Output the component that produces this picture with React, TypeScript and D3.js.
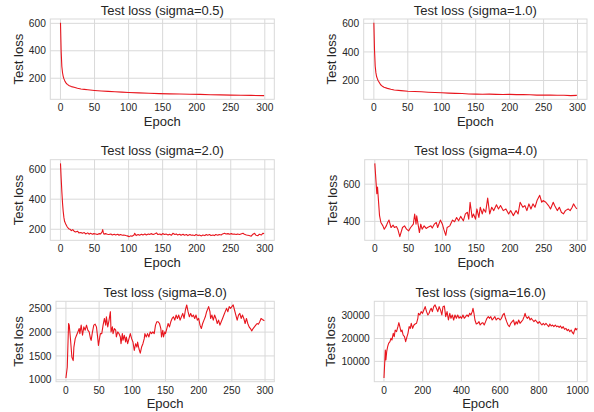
import React from "react";
import * as d3 from "d3";

type Pt = [number, number];

// [epoch, test loss]
const sigma05Loss: Pt[] = [
  [0, 605], [1, 395], [2, 285], [3, 240], [4, 214], [5, 197], [6, 184], [8, 166], [10, 155],
  [13, 145], [16, 139], [20, 134], [25, 127], [30, 122], [35, 119], [40, 116], [50, 111],
  [60, 107], [70, 104], [80, 101], [90, 99], [100, 96], [115, 93], [130, 90], [145, 88],
  [160, 86], [175, 85], [190, 83], [205, 82], [220, 80], [235, 79], [250, 77], [265, 76],
  [280, 75], [299, 73],
];

const sigma10Loss: Pt[] = [
  [0, 605], [1, 410], [2, 300], [3, 255], [4, 228], [5, 215], [6, 202], [8, 186], [10, 170],
  [12, 162], [15, 153], [20, 145], [25, 139], [30, 134], [40, 129], [50, 125], [60, 123],
  [70, 121], [80, 118], [90, 116], [100, 114], [110, 112], [120, 110], [130, 109], [140, 106],
  [150, 105], [160, 104], [170, 105], [180, 103], [190, 102], [200, 103], [210, 101],
  [220, 102], [230, 100], [240, 98], [250, 98], [260, 99], [270, 97], [280, 97], [290, 94],
  [299, 96],
];

const sigma20Loss: Pt[] = [
  [0, 638], [1, 539], [2, 451], [3, 374], [4, 319], [5, 279], [6, 253], [8, 231], [10, 215],
  [12, 204], [14, 200], [16, 191], [18, 198], [20, 187], [22, 182], [25, 187], [27, 176],
  [30, 178], [32, 173], [35, 178], [37, 169], [40, 176], [42, 167], [44, 173], [47, 167],
  [49, 171], [52, 169], [54, 165], [57, 171], [59, 169], [61, 182], [62, 198], [63, 176],
  [64, 167], [66, 171], [69, 167], [71, 165], [74, 169], [76, 162], [79, 167], [81, 162],
  [84, 167], [86, 160], [88, 165], [91, 160], [93, 162], [96, 158], [98, 156], [101, 151],
  [103, 156], [105, 154], [108, 162], [109, 173], [111, 158], [114, 165], [116, 160],
  [119, 167], [121, 162], [124, 169], [126, 162], [129, 169], [131, 165], [133, 171],
  [136, 165], [138, 169], [141, 176], [143, 165], [146, 169], [148, 162], [150, 171],
  [153, 165], [155, 169], [158, 162], [160, 167], [163, 160], [165, 173], [168, 165],
  [170, 169], [172, 162], [175, 167], [177, 160], [180, 167], [182, 160], [185, 165],
  [187, 158], [190, 165], [192, 160], [194, 162], [197, 158], [199, 165], [202, 158],
  [204, 162], [207, 156], [209, 162], [212, 158], [214, 165], [216, 160], [219, 165],
  [221, 158], [224, 162], [226, 158], [228, 165], [231, 160], [233, 165], [236, 162],
  [238, 169], [241, 173], [243, 169], [246, 171], [248, 167], [251, 171], [253, 167],
  [255, 169], [258, 165], [260, 169], [263, 165], [265, 169], [268, 173], [270, 167],
  [273, 162], [275, 160], [277, 158], [280, 154], [282, 165], [285, 173], [287, 160],
  [290, 158], [292, 167], [295, 162], [297, 173], [299, 171],
];

const sigma40Loss: Pt[] = [
  [0, 712], [3, 549], [4, 585], [7, 431], [9, 394], [12, 376], [14, 358], [17, 376], [19, 394],
  [21, 407], [24, 367], [27, 380], [29, 367], [32, 372], [34, 358], [37, 318], [41, 367],
  [44, 376], [47, 358], [50, 349], [53, 367], [57, 385], [59, 440], [61, 385], [62, 430],
  [66, 340], [68, 385], [70, 358], [73, 376], [76, 362], [78, 367], [83, 376], [85, 364],
  [88, 385], [91, 394], [93, 367], [97, 407], [100, 385], [102, 358], [105, 325], [107, 367],
  [111, 376], [115, 407], [118, 398], [121, 421], [124, 403], [127, 427], [131, 403],
  [134, 440], [137, 449], [139, 412], [141, 503], [144, 421], [146, 440], [149, 412],
  [151, 467], [154, 421], [156, 476], [159, 440], [161, 467], [164, 449], [167, 525],
  [170, 440], [173, 476], [176, 458], [180, 489], [183, 467], [186, 485], [190, 458],
  [194, 467], [198, 440], [201, 458], [205, 431], [209, 458], [212, 440], [215, 503],
  [219, 476], [222, 485], [225, 458], [228, 494], [231, 467], [234, 494], [237, 476],
  [240, 512], [244, 540], [247, 503], [249, 512], [253, 503], [257, 485], [260, 467],
  [264, 503], [266, 485], [270, 458], [273, 476], [276, 449], [279, 440], [282, 458],
  [286, 467], [289, 458], [292, 476], [294, 494], [297, 476], [299, 467],
];

const sigma80Loss: Pt[] = [
  [0, 1036], [2, 1262], [4, 2181], [5, 2146], [7, 1828], [9, 1474], [11, 1403], [12, 1686],
  [14, 1863], [16, 1934], [18, 2004], [20, 2075], [21, 1969], [23, 2146], [25, 1934],
  [27, 2110], [29, 2040], [31, 2146], [33, 2040], [35, 2004], [37, 1863], [38, 1828],
  [40, 2004], [42, 2146], [44, 2167], [46, 2110], [48, 1863], [49, 1722], [51, 1898],
  [52, 1969], [54, 1969], [56, 2146], [58, 2287], [60, 2146], [61, 2322], [63, 2110],
  [65, 2252], [67, 2429], [68, 2004], [70, 2110], [71, 1969], [73, 2075], [75, 2040],
  [76, 1898], [78, 2004], [80, 1969], [82, 1898], [83, 1757], [85, 1969], [86, 1828],
  [88, 1934], [90, 1792], [91, 1898], [93, 1757], [95, 1863], [97, 1969], [99, 1863],
  [101, 1792], [103, 1615], [105, 1757], [107, 1686], [108, 1792], [110, 1651], [112, 1559],
  [114, 1686], [116, 1757], [118, 1863], [119, 1969], [121, 1898], [123, 1969], [125, 1898],
  [127, 2004], [129, 1969], [131, 2004], [133, 1969], [135, 2146], [137, 2216], [139, 2216],
  [141, 2181], [143, 2075], [144, 1898], [146, 2040], [147, 1898], [149, 2004], [150, 1969],
  [152, 2075], [154, 2181], [156, 2110], [158, 2216], [160, 2287], [162, 2322], [164, 2252],
  [166, 2358], [168, 2287], [170, 2358], [172, 2252], [174, 2322], [176, 2393], [178, 2287],
  [180, 2464], [182, 2570], [184, 2429], [186, 2322], [188, 2393], [190, 2322], [192, 2358],
  [194, 2287], [196, 2358], [198, 2252], [200, 2287], [202, 2146], [204, 2075], [206, 2181],
  [208, 2252], [210, 2322], [212, 2429], [214, 2499], [215, 2535], [217, 2429], [218, 2287],
  [220, 2358], [222, 2252], [224, 2358], [226, 2287], [228, 2181], [230, 2252], [232, 2146],
  [234, 2216], [236, 2287], [238, 2358], [240, 2429], [242, 2499], [244, 2429], [246, 2535],
  [248, 2499], [250, 2535], [252, 2570], [254, 2464], [256, 2358], [258, 2252], [260, 2358],
  [262, 2393], [264, 2287], [266, 2358], [268, 2287], [270, 2181], [272, 2287], [274, 2181],
  [276, 2110], [278, 2075], [280, 2026], [282, 2075], [284, 2110], [286, 2146], [288, 2181],
  [290, 2167], [292, 2216], [294, 2287], [296, 2266], [299, 2238],
];

const sigma160Loss: Pt[] = [
  [0, 2700], [7, 14960], [10, 10570], [14, 14230], [19, 16420], [24, 17880], [31, 18610],
  [36, 20070], [41, 19340], [48, 22270], [53, 20800], [58, 23730], [65, 23000], [72, 25190],
  [77, 26940], [82, 25190], [88, 23000], [93, 23730], [99, 21540], [106, 20800], [112, 18610],
  [119, 20800], [124, 22270], [130, 25190], [136, 24460], [141, 26650], [148, 24460],
  [155, 25920], [161, 26360], [168, 26650], [175, 28850], [178, 31040], [185, 30310],
  [192, 31770], [199, 31040], [206, 32500], [213, 33960], [220, 31770], [227, 30310],
  [233, 31040], [239, 32500], [244, 33230], [250, 31770], [257, 33960], [264, 34690],
  [271, 33230], [278, 31770], [285, 33960], [292, 32500], [299, 30310], [305, 33960],
  [312, 34250], [319, 29580], [326, 31770], [333, 28110], [340, 31040], [346, 28850],
  [353, 30310], [360, 28110], [367, 30310], [374, 28850], [381, 30310], [388, 28850],
  [394, 29580], [401, 28850], [408, 30310], [415, 28850], [422, 29580], [429, 30310],
  [436, 29580], [443, 31040], [449, 30310], [456, 31770], [460, 33230], [465, 31040],
  [470, 28110], [477, 26360], [484, 26650], [491, 27380], [497, 25920], [504, 26650],
  [511, 26940], [518, 25920], [525, 27380], [532, 28850], [539, 29580], [545, 28850],
  [552, 29580], [559, 28110], [566, 28850], [573, 29580], [580, 28110], [587, 28850],
  [593, 28850], [600, 28110], [607, 28850], [614, 30310], [621, 31040], [628, 28850],
  [634, 27380], [641, 25920], [648, 25190], [655, 26650], [662, 27380], [669, 28110],
  [676, 25920], [683, 27380], [689, 26360], [696, 28110], [703, 26650], [710, 27380],
  [717, 28110], [724, 29580], [729, 31040], [734, 29580], [741, 28850], [748, 29580],
  [755, 28110], [761, 28850], [768, 28110], [775, 27380], [782, 28110], [789, 27380],
  [796, 26650], [803, 27380], [809, 26650], [816, 25920], [823, 26650], [830, 25920],
  [837, 26650], [844, 25920], [851, 25190], [857, 26360], [864, 25480], [871, 25920],
  [878, 25190], [885, 25920], [892, 25190], [899, 25480], [905, 24900], [912, 25480],
  [919, 24460], [926, 25190], [933, 24020], [940, 24460], [947, 23440], [953, 24020],
  [960, 23000], [967, 23730], [974, 22560], [979, 21970], [984, 23440], [989, 24460],
  [993, 23730], [999, 24460],
];

const epochTicks300 = [0, 50, 100, 150, 200, 250, 300];
const epochTicks1000 = [0, 200, 400, 600, 800, 1000];
const lossTicksLow = [200, 400, 600];
const lossTicksSigma4 = [400, 600];
const lossTicksSigma8 = [1000, 1500, 2000, 2500];
const lossTicksSigma16 = [10000, 20000, 30000];

const W = 594;
const H = 412;
const FONT = "'Liberation Sans', Arial, 'DejaVu Sans', sans-serif";
const TEXT = "#262626";
const GRID = "#d9d9d9";
const LINE = "#e8161e";

type Box = { left: number; right: number; top: number; bottom: number };
type PanelSpec = { sigma: string; data: Pt[]; xTicks: number[]; yTicks: number[]; box: Box };

const panels: PanelSpec[] = [
  { sigma: "0.5", data: sigma05Loss, xTicks: epochTicks300, yTicks: lossTicksLow, box: { left: 50.3, right: 274.3, top: 19, bottom: 99.3 } },
  { sigma: "1.0", data: sigma10Loss, xTicks: epochTicks300, yTicks: lossTicksLow, box: { left: 363.7, right: 587, top: 19, bottom: 99.3 } },
  { sigma: "2.0", data: sigma20Loss, xTicks: epochTicks300, yTicks: lossTicksLow, box: { left: 50.3, right: 274.3, top: 159.7, bottom: 240.3 } },
  { sigma: "4.0", data: sigma40Loss, xTicks: epochTicks300, yTicks: lossTicksSigma4, box: { left: 364.7, right: 587, top: 159.7, bottom: 240.3 } },
  { sigma: "8.0", data: sigma80Loss, xTicks: epochTicks300, yTicks: lossTicksSigma8, box: { left: 56, right: 274.3, top: 301.3, bottom: 381.7 } },
  { sigma: "16.0", data: sigma160Loss, xTicks: epochTicks1000, yTicks: lossTicksSigma16, box: { left: 374.3, right: 587, top: 301.3, bottom: 381.7 } },
];

// matplotlib-style 5% data margins
const padded = (ext: [number, number]): [number, number] => {
  const span = ext[1] - ext[0];
  return [ext[0] - 0.05 * span, ext[1] + 0.05 * span];
};

const Panel = ({ spec }: { spec: PanelSpec }) => {
  const { box, data } = spec;
  const x = d3
    .scaleLinear()
    .domain(padded(d3.extent(data, (d) => d[0]) as [number, number]))
    .range([box.left, box.right]);
  const y = d3
    .scaleLinear()
    .domain(padded(d3.extent(data, (d) => d[1]) as [number, number]))
    .range([box.bottom, box.top]);
  const path = d3
    .line<Pt>()
    .x((d) => x(d[0]))
    .y((d) => y(d[1]))(data);

  const tickW = (d3.max(spec.yTicks, (t) => String(t).length) ?? 3) * 5.7;
  const yLabelX = box.left - 4.5 - tickW - 6;
  const cx = (box.left + box.right) / 2;
  const cy = (box.top + box.bottom) / 2;

  return (
    <g>
      {spec.xTicks.map((t) => (
        <line key={"gx" + t} x1={x(t)} x2={x(t)} y1={box.top} y2={box.bottom} stroke={GRID} strokeWidth={1} />
      ))}
      {spec.yTicks.map((t) => (
        <line key={"gy" + t} x1={box.left} x2={box.right} y1={y(t)} y2={y(t)} stroke={GRID} strokeWidth={1} />
      ))}
      <rect x={box.left} y={box.top} width={box.right - box.left} height={box.bottom - box.top} fill="none" stroke={GRID} strokeWidth={1} />
      <path d={path ?? ""} fill="none" stroke={LINE} strokeWidth={1.1} strokeLinejoin="round" />
      {spec.xTicks.map((t) => (
        <text key={"tx" + t} x={x(t)} y={box.bottom + 12} textAnchor="middle" fontSize={10.2} fill={TEXT}>
          {t}
        </text>
      ))}
      {spec.yTicks.map((t) => (
        <text key={"ty" + t} x={box.left - 4.5} y={y(t)} dy="0.35em" textAnchor="end" fontSize={10.2} fill={TEXT}>
          {t}
        </text>
      ))}
      <text x={cx} y={box.top - 4.5} textAnchor="middle" fontSize={13} fill={TEXT}>
        {`Test loss (sigma=${spec.sigma})`}
      </text>
      <text x={cx} y={box.bottom + 26.4} textAnchor="middle" fontSize={13} fill={TEXT}>
        Epoch
      </text>
      <text transform={`translate(${yLabelX},${cy}) rotate(-90)`} textAnchor="middle" fontSize={13} fill={TEXT}>
        Test loss
      </text>
    </g>
  );
};

export default function App() {
  return (
    <svg
      width={W}
      height={H}
      style={{ position: "absolute", left: 0, top: 0, background: "#fff" }}
      fontFamily={FONT}
    >
      <rect width={W} height={H} fill="#fff" />
      {panels.map((p) => (
        <Panel key={p.sigma} spec={p} />
      ))}
    </svg>
  );
}
